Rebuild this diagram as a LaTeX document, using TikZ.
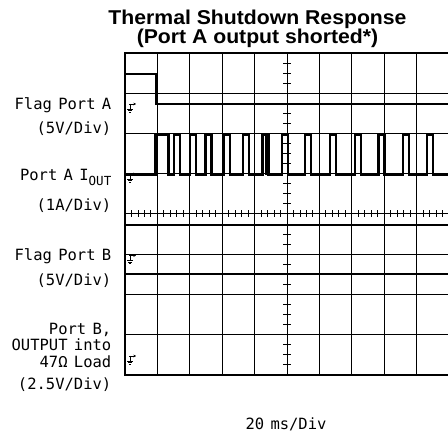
\documentclass[tikz,border=0pt]{standalone}
\usepackage{fontspec}
\newfontfamily\titlefont{Liberation Sans}[FakeStretch=1.06]
\newfontfamily\labfont{DejaVu Sans Mono}[WordSpace=0.68]
\usetikzlibrary{arrows.meta}
\tikzset{
  gridline/.style={line width=1pt, black},
  frameline/.style={line width=1.7pt, black},
  tickline/.style={line width=0.9pt, black},
  trace/.style={line width=2.6pt, black, line join=miter},
  flagtrace/.style={line width=2.4pt, black},
  lab/.style={font=\labfont\fontsize{15.5}{15.5}\selectfont, anchor=base east, inner sep=0pt},
  ttl/.style={font=\titlefont\bfseries\fontsize{20}{20}\selectfont, anchor=base, inner sep=0pt},
  gnd/.pic={
    \draw[line width=0.8pt] (0,0) -- (0,5);
    \draw[line width=0.8pt,-{Stealth[length=2.6pt,width=2.6pt]}] (-1,0) -- (6,0);
    \draw[line width=0.8pt] (-2.6,5) -- (2.6,5);
    \draw[line width=0.8pt] (-1.7,6.6) -- (1.7,6.6);
    \draw[line width=0.8pt] (-0.8,8.2) -- (0.8,8.2);
  }
}
\begin{document}
\begin{tikzpicture}[x=1pt,y=-1pt]
\useasboundingbox (0,0) rectangle (448,433);
\clip (0,0) rectangle (448,433);
% title
\node[ttl] (t1) at (257.5,25) {Thermal Shutdown Response};
\node[ttl] (t2) at (257.5,44) {(Port A output shorted*)};
% grid
\foreach \i in {1,...,9} \draw[gridline] ({125+\i*32.4},53) -- ({125+\i*32.4},375);
\foreach \j in {1,...,7} \draw[gridline] (125,{53+\j*40.25}) -- (450,{53+\j*40.25});
\draw[frameline] (125,53) rectangle (449.5,375);
% ticks on centre axes
\foreach \c in {0,...,9} \foreach \s in {1,...,4}
  \draw[tickline] ({125+\c*32.4+\s*6.48},210.5) -- ++(0,7);
\foreach \r in {0,...,7} \foreach \s in {1,2,3}
  \draw[tickline] (283.2,{53+\r*40.25+\s*10.0625}) -- ++(7.6,0);
% traces
\draw[flagtrace] (125,74) -- (156,74) -- (156,104) -- (450,104);
\draw[trace] (125,175) -- (155.5,175) -- (155.5,135) -- (168.5,135) -- (168.5,175)
  \foreach \p in {174,190,205.5,224,243,262.5,282,305,330,355,378.5,403,427} {
    -- (\p,175) -- (\p,135) -- ({\p+6},135) -- ({\p+6},175) } -- (450,175);
\draw[line width=1.2pt] (266,175) -- (266,135);
\draw[flagtrace] (125,225) -- (450,225);
\draw[flagtrace] (125,274) -- (450,274);
% ground markers
\pic at (130,104) {gnd};
\pic at (130,174) {gnd};
\pic at (130,255.5) {gnd};
\pic at (130,356) {gnd};
% labels
\node[lab] (l1) at (111.5,109.5) {Flag Port A};
\node[lab] (l2) at (111.5,134) {(5V/Div)};
\node[lab] (l3) at (111.5,180.5) {Port A I\raisebox{-5.5pt}{\fontsize{12.5}{12.5}\selectfont OUT}};
\node[lab] (l4) at (111.5,211) {(1A/Div)};
\node[lab] (l5) at (111.5,261) {Flag Port B};
\node[lab] (l6) at (111.5,286) {(5V/Div)};
\node[lab] (l7) at (111.5,334.5) {Port B,};
\node[lab] (l8) at (111.5,350.5) {OUTPUT into};
\node[lab] (l9) at (111.5,368) {47Ω Load};
\node[lab] (l10) at (111.5,389) {(2.5V/Div)};
\node[lab, anchor=base] (l11) at (286,429.3) {20 ms/Div};
\end{tikzpicture}
\end{document}
